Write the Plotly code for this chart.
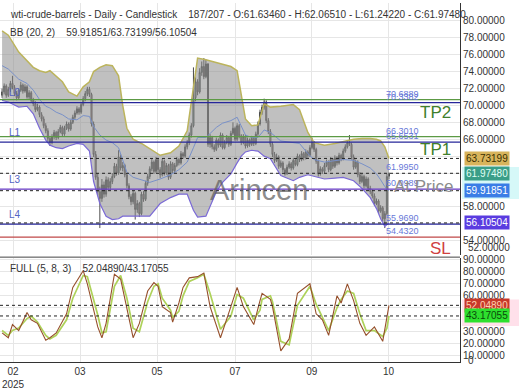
import plotly.graph_objects as go

# ---------------- data ----------------
opens = [71.2,71.6,72.3,71.2,71.9,72.6,72.1,71.4,70.9,71.8,
         72.4,71.7,72.2,71.0,71.5,70.6,70.2,69.5,69.8,68.9,
         68.4,67.6,67.0,66.1,65.6,66.3,66.8,66.2,66.9,67.4,
         66.6,67.3,67.8,67.2,68.0,68.6,69.1,69.6,69.2,70.1,
         70.8,71.4,71.9,71.3,67.8,64.2,61.5,59.8,59.0,60.6,
         59.5,61.2,60.3,61.0,61.6,62.8,62.0,63.9,62.6,62.9,
         61.8,60.5,59.2,58.6,59.6,57.7,58.4,57.2,59.5,58.9,
         60.8,61.6,62.5,63.3,62.2,63.6,62.4,61.8,63.4,62.0,
         62.9,61.5,63.1,62.3,62.9,63.6,63.2,64.3,64.0,65.1,
         65.6,66.5,67.6,70.9,72.8,71.6,73.9,74.6,73.4,74.9,
         65.4,66.2,65.1,64.8,65.9,65.3,66.5,65.0,65.6,66.2,
         65.4,66.7,67.3,66.0,67.6,66.4,65.6,66.3,65.2,65.9,
         65.4,66.1,65.5,66.6,67.8,69.2,69.8,70.4,68.2,66.9,
         65.4,64.2,63.5,63.9,62.8,63.2,62.4,61.9,62.7,63.1,
         62.6,63.5,63.0,64.0,63.6,64.3,63.8,64.5,64.1,65.0,
         65.6,64.8,63.4,61.9,62.5,62.2,62.9,63.3,62.4,63.6,
         62.8,63.8,63.2,64.1,63.7,64.6,65.1,65.6,65.4,63.9,
         62.7,63.3,61.8,61.0,61.6,60.5,61.3,60.2,59.8,59.3,
         58.4,58.7,57.5,57.9,56.6,57.2,61.6346]
highs = [72.0,72.6,72.5,72.2,72.9,73.5,72.4,71.7,72.0,72.8,
         72.6,72.5,72.4,71.8,71.7,70.9,70.5,70.2,70.0,69.2,
         68.7,67.9,67.3,66.4,66.6,67.1,67.0,67.2,67.7,67.6,
         67.6,68.1,68.0,68.3,68.9,69.4,69.9,69.8,70.4,71.1,
         71.7,72.2,72.2,71.5,68.1,64.6,62.0,60.4,61.3,61.0,
         61.6,61.5,61.4,62.0,63.2,63.1,64.7,64.2,63.3,63.1,
         62.0,60.8,59.5,59.9,59.8,58.8,58.6,59.8,59.9,61.1,
         61.9,62.8,63.7,63.5,63.9,63.8,62.7,63.7,63.6,63.2,
         63.1,63.4,63.3,63.2,63.9,63.8,64.6,64.5,65.4,65.9,
         66.8,67.9,74.5,73.3,73.1,74.4,75.2,75.6,75.4,75.0,
         66.6,66.4,65.4,66.2,66.1,66.8,66.7,65.9,66.5,66.4,
         67.0,68.0,67.5,67.9,67.8,66.6,66.6,66.5,66.2,66.1,
         66.4,66.3,66.9,68.1,69.5,70.1,70.8,70.6,68.5,67.2,
         65.7,64.5,64.3,64.1,63.5,63.4,62.6,63.0,63.4,63.3,
         63.8,63.7,64.3,64.2,64.6,64.5,64.8,64.7,65.3,66.2,
         65.8,65.0,63.6,62.8,62.7,63.2,63.6,63.5,63.9,63.8,
         64.1,64.0,64.4,64.3,64.9,65.4,65.9,66.5,65.6,64.2,
         63.6,63.5,62.1,61.9,61.8,61.6,61.5,60.5,60.1,59.6,
         59.0,58.9,58.2,58.1,57.5,61.9,62.0651]
lows = [70.9,71.3,70.9,71.0,71.6,71.9,71.1,70.6,70.7,71.6,
        71.4,71.5,70.8,70.7,70.3,69.9,69.2,69.3,68.6,68.1,
        67.3,66.7,65.8,65.2,65.4,66.0,65.9,66.0,66.7,66.3,
        66.4,67.1,66.9,67.0,67.8,68.3,68.9,68.9,69.0,69.9,
        70.5,71.1,71.0,67.5,63.9,61.2,59.4,55.5,58.6,59.1,
        59.2,60.0,60.0,60.7,61.4,61.7,61.8,62.3,62.2,61.5,
        60.2,58.9,58.2,58.3,56.5,57.3,56.8,57.0,58.6,58.7,
        60.5,61.3,62.2,61.9,62.0,62.1,61.4,61.6,61.7,61.8,
        61.2,61.3,62.0,62.1,62.7,62.9,63.0,63.7,63.8,64.8,
        65.3,66.2,67.4,70.5,71.2,71.4,73.5,73.1,73.2,65.1,
        65.0,64.8,64.5,64.6,65.0,65.1,64.8,64.8,65.4,65.1,
        65.2,66.5,65.8,65.8,66.1,65.3,65.4,64.9,65.0,65.1,
        65.2,65.2,65.3,66.4,67.6,68.9,69.5,67.9,66.6,65.1,
        63.9,63.2,63.3,62.5,62.6,62.1,61.7,61.8,62.5,62.3,
        62.4,62.8,62.8,63.3,63.4,63.5,63.6,63.8,63.9,64.8,
        64.5,63.1,61.6,61.7,61.9,62.0,62.7,62.1,62.2,62.5,
        62.6,62.9,63.0,63.4,63.5,64.4,64.9,65.2,63.6,62.4,
        62.5,61.5,60.7,60.8,60.2,60.3,59.9,59.5,59.0,58.1,
        58.2,57.2,57.3,56.3,55.5,57.0,61.2422]
closes = [71.6,72.3,71.2,71.9,72.6,72.1,71.4,70.9,71.8,72.4,
          71.7,72.2,71.0,71.5,70.6,70.2,69.5,69.8,68.9,68.4,
          67.6,67.0,66.1,65.6,66.3,66.8,66.2,66.9,67.4,66.6,
          67.3,67.8,67.2,68.0,68.6,69.1,69.6,69.2,70.1,70.8,
          71.4,71.9,71.3,67.8,64.2,61.5,59.8,59.0,60.6,59.5,
          61.2,60.3,61.0,61.6,62.8,62.0,63.9,62.6,62.9,61.8,
          60.5,59.2,58.6,59.6,57.7,58.4,57.2,59.5,58.9,60.8,
          61.6,62.5,63.3,62.2,63.6,62.4,61.8,63.4,62.0,62.9,
          61.5,63.1,62.3,62.9,63.6,63.2,64.3,64.0,65.1,65.6,
          66.5,67.6,70.9,72.8,71.6,73.9,74.6,73.4,74.9,65.4,
          66.2,65.1,64.8,65.9,65.3,66.5,65.0,65.6,66.2,65.4,
          66.7,67.3,66.0,67.6,66.4,65.6,66.3,65.2,65.9,65.4,
          66.1,65.5,66.6,67.8,69.2,69.8,70.4,68.2,66.9,65.4,
          64.2,63.5,63.9,62.8,63.2,62.4,61.9,62.7,63.1,62.6,
          63.5,63.0,64.0,63.6,64.3,63.8,64.5,64.1,65.0,65.6,
          64.8,63.4,61.9,62.5,62.2,62.9,63.3,62.4,63.6,62.8,
          63.8,63.2,64.1,63.7,64.6,65.1,65.6,65.4,63.9,62.7,
          63.3,61.8,61.0,61.6,60.5,61.3,60.2,59.8,59.3,58.4,
          58.7,57.5,57.9,56.6,57.2,61.6,61.9748]
bars = list(range(len(closes)))

bb_idx = [0,3,8,12,15,18,21,23,26,29,32,36,39,42,44,47,50,53,56,58,60,63,67,71,76,81,85,89,92,94,
          98,103,106,110,113,115,117,120,123,126,129,134,140,143,147,150,155,160,164,169,173,177,180,182,184,186]
bb_upper = [78.8,78.3,76.3,75.3,74.5,74.1,73.9,74.1,73.4,72.8,71.6,71.1,72.2,72.8,74.0,74.5,74.8,74.7,73.5,70.0,
            67.3,66.0,65.5,64.9,64.1,64.4,65.2,67.0,72.5,75.6,75.4,75.1,74.9,74.6,74.1,71.2,68.4,67.6,67.7,70.2,
            69.8,69.9,70.1,69.5,66.8,65.6,65.3,65.5,65.7,66.0,66.1,66.1,66.0,65.8,65.1,63.73199]
bb_lower = [70.6,70.4,69.8,69.9,69.0,67.3,65.9,65.3,65.0,64.9,65.2,65.5,65.4,64.6,61.0,58.4,56.9,56.5,56.6,56.9,
            56.9,56.9,56.9,56.9,58.4,59.1,59.5,59.5,57.6,56.8,56.9,59.8,60.9,61.9,63.2,64.0,64.5,64.7,64.6,64.0,
            63.7,61.7,61.1,61.5,61.8,61.6,61.3,61.4,61.5,61.1,60.2,59.1,57.8,56.6,55.7,56.10504]
bb_mid = [74.7,74.3,73.1,72.6,71.8,70.7,69.9,69.7,69.2,68.9,68.4,68.3,68.8,68.7,67.5,66.5,65.9,65.6,65.0,63.5,
          62.1,61.5,61.2,60.9,61.3,61.8,62.4,63.3,65.0,66.2,66.2,67.4,67.9,68.2,68.6,67.6,66.5,66.2,66.2,67.1,
          66.8,65.8,65.6,65.5,64.3,63.6,63.3,63.5,63.6,63.5,63.1,62.6,61.9,61.2,60.4,59.91851]

st_idx = [0,3,5,8,12,14,17,21,23,26,31,34,39,41,46,48,50,54,57,60,63,66,70,73,75,77,81,82,85,87,
          90,94,97,100,105,110,113,116,121,124,125,129,130,134,138,142,148,151,154,157,161,163,166,169,172,175,179,183,185,186]
st_k = [29,25,36,31,46,40,37,23,25,29,45,67,81,70,34,25,37,78,74,48,25,37,64,71,68,51,46,38,54,67,
        75,76,79,51,25,51,67,51,36,56,62,57,51,14,24,62,70,45,40,27,60,54,70,56,37,27,34,22,42,52.0489]
st_d = [31,27,31,33,41,43,38,27,24,27,40,58,77,76,44,29,30,68,77,58,33,30,55,68,70,58,48,42,47,60,
        72,75,78,62,32,43,61,58,40,48,57,60,55,22,19,52,68,53,42,31,50,57,64,62,45,31,31,26,33,43.17055]

x_tick_pos = [5.25, 37.5, 74.5, 112.0, 148.9, 185.8]
x_tick_text = ["02<br>2025", "03", "05", "07", "09", "10"]

green_levels = [70.6889, 66.3010]
blue_levels = [70.3382, 65.6531, 55.9690]
purple_levels = [60.0989]
dashed_levels = [63.73199, 61.97480, 59.91851, 56.10504]
sl_level = 54.4320
level_label_vals = [70.6889, 70.3382, 66.3010, 65.6531, 61.9950, 60.0989, 55.9690, 54.4320]
level_label_text = ["70.6889", "70.3382", "66.3010", "65.6531", "61.9950", "60.0989", "55.9690", "54.4320"]
l_label_text = ["L0", "L1", "L3", "L4"]
l_label_vals = [70.3382, 65.6531, 60.0989, 55.9690]

main_ticks = [54, 56, 58, 60, 62, 64, 66, 68, 70, 72, 74, 76, 78, 80]
main_hidden = [56, 60, 62, 64]
st_ticks = [10, 20, 30, 40, 50, 60, 70, 80, 90]
st_hidden = [40, 50]

price_boxes = [(63.73199, "#d8b45c", "#3a3000"), (61.97480, "#3a9e88", "#e0fff4"),
               (59.91851, "#3a7de6", "#ffffff"), (56.10504, "#5a3ce0", "#ffffff")]
st_boxes = [(52.04890, "#c8382a", "#ffd0b0"), (43.17055, "#2ee02e", "#0a4a0a")]

# ---------------- layout helpers (pixel geometry) ----------------
W, H = 520, 390
PL, PR, PT, PB = 0, 60, 0, 22
PW, PH = W - PL - PR, H - PT - PB
def px(x):
    return (x - PL) / PW
def py(y):
    return (H - PB - y) / PH

FONT = "Liberation Sans, Arial, sans-serif"
DASH = "3px,3px"
fig = go.Figure()

# Bollinger band
fig.add_trace(go.Scatter(x=bb_idx, y=bb_upper, mode="lines", line=dict(color="#bcb45c", width=1.5),
                         hoverinfo="skip", showlegend=False, xaxis="x", yaxis="y"))
fig.add_trace(go.Scatter(x=bb_idx, y=bb_lower, mode="lines", line=dict(color="#7b6ad6", width=1.2),
                         fill="tonexty", fillcolor="rgba(140,140,140,0.55)",
                         hoverinfo="skip", showlegend=False, xaxis="x", yaxis="y"))
fig.add_trace(go.Scatter(x=bb_idx, y=bb_mid, mode="lines", line=dict(color="#7890c8", width=1),
                         hoverinfo="skip", showlegend=False, xaxis="x", yaxis="y"))

# candles
fig.add_trace(go.Candlestick(x=bars, open=opens, high=highs, low=lows, close=closes,
                             increasing=dict(line=dict(color="#4a4a4a", width=1), fillcolor="#8fcfb8"),
                             decreasing=dict(line=dict(color="#4e4e4e", width=1), fillcolor="#e0a8a8"),
                             whiskerwidth=0, hoverinfo="skip", showlegend=False, xaxis="x", yaxis="y"))

# stochastic
fig.add_trace(go.Scatter(x=st_idx, y=st_d, mode="lines", line=dict(color="#aed25a", width=1.7),
                         hoverinfo="skip", showlegend=False, xaxis="x2", yaxis="y2"))
fig.add_trace(go.Scatter(x=st_idx, y=st_k, mode="lines", line=dict(color="#96502c", width=1.1),
                         hoverinfo="skip", showlegend=False, xaxis="x2", yaxis="y2"))

shapes = []
for v in green_levels:
    shapes.append(dict(type="line", xref="paper", x0=0, x1=1, yref="y", y0=v, y1=v,
                       line=dict(color="#5c9a44", width=1.2), layer="above"))
for v in blue_levels:
    shapes.append(dict(type="line", xref="paper", x0=0, x1=1, yref="y", y0=v, y1=v,
                       line=dict(color="#26269a", width=1.2), layer="above"))
for v in purple_levels:
    shapes.append(dict(type="line", xref="paper", x0=0, x1=1, yref="y", y0=v, y1=v,
                       line=dict(color="#6a3cc8", width=1.2), layer="above"))
for v in dashed_levels:
    shapes.append(dict(type="line", xref="paper", x0=0, x1=1, yref="y", y0=v, y1=v,
                       line=dict(color="#222222", width=1, dash=DASH), layer="above"))
shapes.append(dict(type="line", xref="paper", x0=0, x1=1, yref="y", y0=sl_level, y1=sl_level,
                   line=dict(color="#c04848", width=1.2), layer="above"))
for v in (st_k[-1], st_d[-1]):
    shapes.append(dict(type="line", xref="paper", x0=0, x1=1, yref="y2", y0=v, y1=v,
                       line=dict(color="#222222", width=1, dash=DASH), layer="above"))
# panel separator
shapes.append(dict(type="line", xref="paper", x0=0, x1=1, yref="paper", y0=py(260.5), y1=py(260.5),
                   line=dict(color="#444444", width=1), layer="above"))
# pale highlight behind price boxes
shapes.append(dict(type="rect", xref="paper", x0=px(462), x1=px(519), yref="paper",
                   y0=py(201), y1=py(168), fillcolor="#d6f8f8", line=dict(width=0), layer="below"))
shapes.append(dict(type="rect", xref="paper", x0=px(462), x1=px(519), yref="paper",
                   y0=py(331), y1=py(304), fillcolor="#ffe0ea", line=dict(width=0), layer="below"))

ann = []
def txt(x, y, s, size=10, color="#333333", xanchor="left", **kw):
    d = dict(x=x, y=y, xref="paper", yref="paper", text=s, showarrow=False, xanchor=xanchor,
             yanchor="middle", font=dict(family=FONT, size=size, color=color))
    d.update(kw)
    ann.append(d)

NB = "\u00a0"
txt(px(8), py(12), "wti-crude-barrels - Daily - Candlestick" + NB * 4 +
    "187/207 - O:61.63460 - H:62.06510 - L:61.24220 - C:61.97480")
txt(px(8), py(30), "BB (20, 2)" + NB * 4 + "59.91851/63.73199/56.10504")
txt(px(8), py(272), "FULL (5, 8, 3)" + NB * 4 + "52.04890/43.17055")

# level value labels (data coordinates)
for v, s in zip(level_label_vals, level_label_text):
    ann.append(dict(x=183.6, y=v, xref="x", yref="y", text=s, showarrow=False, xanchor="left",
                    yanchor="middle", yshift=6, font=dict(family=FONT, size=9, color="#6878d8")))
for v, s in zip(l_label_vals, l_label_text):
    ann.append(dict(x=px(7), y=v, xref="paper", yref="y", text=s, showarrow=False, xanchor="left",
                    yanchor="middle", yshift=10, font=dict(family=FONT, size=10, color="#5464c4")))

txt(px(453), py(112), "TP2", size=17, color="#3f7f2c", xanchor="right")
txt(px(453), py(150), "TP1", size=17, color="#3f7f2c", xanchor="right")
txt(px(453), py(252), "SL", size=17, color="#d04040", xanchor="right")
txt(px(456), py(188), "At Price", size=17, color="#8c8c8c", xanchor="right")
txt(px(259), py(192), "Arincen", size=29, color="rgba(90,90,90,0.7)", xanchor="center")

for v, bg, fg in price_boxes:
    ann.append(dict(x=px(464), y=v, xref="paper", yref="y", text=f"{v:.5f}", showarrow=False,
                    xanchor="left", yanchor="middle", bgcolor=bg, borderpad=1,
                    font=dict(family=FONT, size=10, color=fg)))
for v, bg, fg in st_boxes:
    ann.append(dict(x=px(464), y=v, xref="paper", yref="y2", text=f"{v:.5f}", showarrow=False,
                    xanchor="left", yanchor="middle", bgcolor=bg, borderpad=1,
                    font=dict(family=FONT, size=10, color=fg)))
txt(px(466), py(251), "52.00000")
txt(px(466), py(366), "0")

axis_common = dict(showgrid=True, gridcolor="#e6e6e6", gridwidth=1, zeroline=False,
                   tickfont=dict(family=FONT, size=10, color="#333333"), ticks="")

fig.update_layout(
    width=W, height=H, margin=dict(l=PL, r=PR, t=PT, b=PB),
    paper_bgcolor="white", plot_bgcolor="white", showlegend=False,
    xaxis=dict(domain=[0, 1], range=[-1, 220.15], anchor="y", tickvals=x_tick_pos,
               showticklabels=False, rangeslider=dict(visible=False), **axis_common),
    xaxis2=dict(domain=[0, 1], range=[-1, 220.15], anchor="y2", tickvals=x_tick_pos,
                ticktext=x_tick_text, showline=True, linecolor="#333333", linewidth=1,
                **axis_common),
    yaxis=dict(domain=[py(258), 1], range=[52.35, 82.11], side="right", anchor="x",
               tickvals=main_ticks,
               ticktext=["" if t in main_hidden else f"{t:.5f}" for t in main_ticks],
               showline=True, linecolor="#333333", linewidth=1, **axis_common),
    yaxis2=dict(domain=[0, py(261)], range=[4.73, 91.9], side="right", anchor="x2",
                tickvals=st_ticks,
                ticktext=["" if t in st_hidden else f"{t:.5f}" for t in st_ticks],
                showline=True, linecolor="#333333", linewidth=1, **axis_common),
    shapes=shapes, annotations=ann,
)

fig.write_html("out.html")
